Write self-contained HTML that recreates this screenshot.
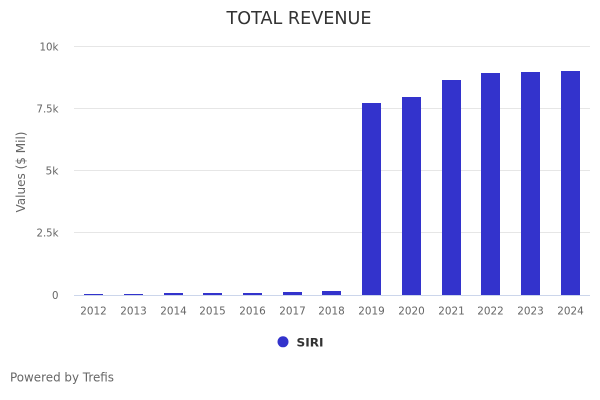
<!DOCTYPE html>
<html>
<head>
<meta charset="utf-8">
<style>
html,body{margin:0;padding:0;background:#fff;}
svg{display:block;font-family:"DejaVu Sans","Liberation Sans",sans-serif;}
</style>
</head>
<body>
<svg width="600" height="400" viewBox="0 0 600 400" xmlns="http://www.w3.org/2000/svg">
<rect width="600" height="400" fill="#fff"/>
<text x="299" y="24" text-anchor="middle" font-size="17.5" fill="#333333" textLength="145" lengthAdjust="spacingAndGlyphs">TOTAL REVENUE</text>

<g stroke="#e6e6e6" stroke-width="1">
<line x1="74" y1="46.5" x2="590" y2="46.5"/>
<line x1="74" y1="108.5" x2="590" y2="108.5"/>
<line x1="74" y1="170.5" x2="590" y2="170.5"/>
<line x1="74" y1="232.5" x2="590" y2="232.5"/>
</g>

<g font-size="11" fill="#666666" text-anchor="end">
<text x="58.5" y="50.5" textLength="19" lengthAdjust="spacingAndGlyphs">10k</text>
<text x="58.5" y="112.5" textLength="22" lengthAdjust="spacingAndGlyphs">7.5k</text>
<text x="58.5" y="174.5" textLength="13" lengthAdjust="spacingAndGlyphs">5k</text>
<text x="58.5" y="236.5" textLength="22" lengthAdjust="spacingAndGlyphs">2.5k</text>
<text x="58.5" y="299" textLength="6.5" lengthAdjust="spacingAndGlyphs">0</text>
</g>

<text transform="translate(25,172) rotate(-90)" text-anchor="middle" font-size="12" fill="#666666" textLength="81" lengthAdjust="spacingAndGlyphs">Values ($ Mil)</text>

<g fill="#3333cc">
<rect x="84" y="294" width="19" height="1.5"/>
<rect x="124" y="294" width="19" height="1.5"/>
<rect x="164" y="293" width="19" height="2.5"/>
<rect x="203" y="293" width="19" height="2.5"/>
<rect x="243" y="293" width="19" height="2.5"/>
<rect x="283" y="292" width="19" height="3.5"/>
<rect x="322" y="291" width="19" height="4.5"/>
<rect x="362" y="103" width="19" height="192.5"/>
<rect x="402" y="97" width="19" height="198.5"/>
<rect x="442" y="80" width="19" height="215.5"/>
<rect x="481" y="73" width="19" height="222.5"/>
<rect x="521" y="72" width="19" height="223.5"/>
<rect x="561" y="71" width="19" height="224.5"/>
</g>

<line x1="74" y1="295.5" x2="590" y2="295.5" stroke="#ccd6eb" stroke-width="1"/>

<g font-size="11" fill="#666666" text-anchor="middle">
<text x="93.5" y="314.5" textLength="26.5" lengthAdjust="spacingAndGlyphs">2012</text>
<text x="133.5" y="314.5" textLength="26.5" lengthAdjust="spacingAndGlyphs">2013</text>
<text x="173.5" y="314.5" textLength="26.5" lengthAdjust="spacingAndGlyphs">2014</text>
<text x="212.5" y="314.5" textLength="26.5" lengthAdjust="spacingAndGlyphs">2015</text>
<text x="252.5" y="314.5" textLength="26.5" lengthAdjust="spacingAndGlyphs">2016</text>
<text x="292.5" y="314.5" textLength="26.5" lengthAdjust="spacingAndGlyphs">2017</text>
<text x="331.5" y="314.5" textLength="26.5" lengthAdjust="spacingAndGlyphs">2018</text>
<text x="371.5" y="314.5" textLength="26.5" lengthAdjust="spacingAndGlyphs">2019</text>
<text x="411.5" y="314.5" textLength="26.5" lengthAdjust="spacingAndGlyphs">2020</text>
<text x="451.5" y="314.5" textLength="26.5" lengthAdjust="spacingAndGlyphs">2021</text>
<text x="490.5" y="314.5" textLength="26.5" lengthAdjust="spacingAndGlyphs">2022</text>
<text x="530.5" y="314.5" textLength="26.5" lengthAdjust="spacingAndGlyphs">2023</text>
<text x="570.5" y="314.5" textLength="26.5" lengthAdjust="spacingAndGlyphs">2024</text>
</g>

<circle cx="283" cy="341.8" r="5.5" fill="#3333cc"/>
<text x="296.5" y="346.7" font-size="11.5" font-weight="bold" fill="#333333" textLength="27" lengthAdjust="spacingAndGlyphs">SIRI</text>

<text x="10" y="381.7" font-size="12.5" fill="#666666" textLength="104" lengthAdjust="spacingAndGlyphs">Powered by Trefis</text>
</svg>
</body>
</html>
